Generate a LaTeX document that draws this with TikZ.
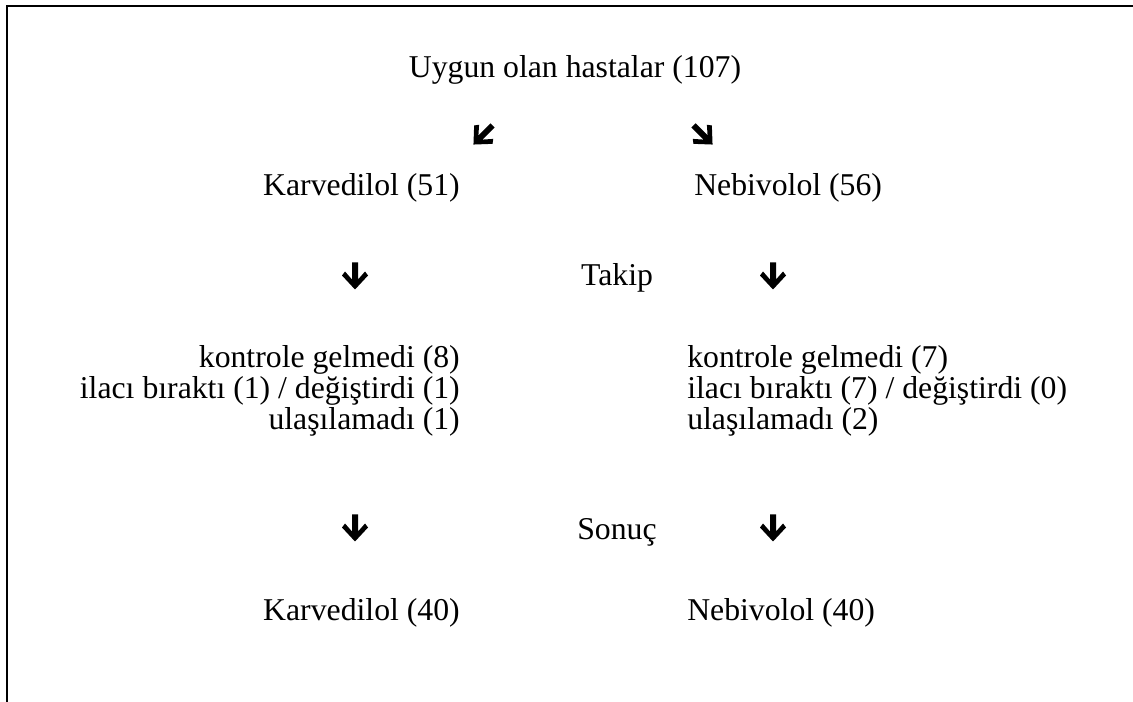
\documentclass[tikz,border=0pt]{standalone}
\usepackage{fontspec}
\setmainfont{Liberation Serif}
\begin{document}
\begin{tikzpicture}[x=0.75pt,y=-0.75pt,
  txt/.style={inner sep=0pt, anchor=base, font=\fontsize{23.8}{30}\selectfont},
  ltxt/.style={txt, anchor=base east},
  rtxt/.style={txt, anchor=base west},
  frame/.style={line width=1.5pt},
  bigarrow/.pic={\fill (-3,-13.5) -- (3,-13.5) -- (3,3.5) -- (10,-4.5) -- (13,-0.5) -- (0,13.5) -- (-13,-0.5) -- (-10,-4.5) -- (-3,3.5) -- cycle;}
  ]
\useasboundingbox (0,0) rectangle (1133,702);
\draw[frame] (7,702) -- (7,6) -- (1133,6);
\node[txt] (top) at (575,78) {Uygun olan hastalar (107)};
\pic[rotate=-45] (aSW) at (483,135) {bigarrow};
\pic[rotate=45] (aSE) at (703,135) {bigarrow};
\node[ltxt] (k51) at (460,196) {Karvedilol (51)};
\node[rtxt] (n56) at (694,196) {Nebivolol (56)};
\pic (aL1) at (355,276) {bigarrow};
\pic (aR1) at (773,276) {bigarrow};
\node[txt] (takip) at (617,286) {Takip};
\node[ltxt] (l1) at (460,368) {kontrole gelmedi (8)};
\node[ltxt] (l2) at (460,399) {ilacı bıraktı (1) / değiştirdi (1)};
\node[ltxt] (l3) at (460,430) {ulaşılamadı (1)};
\node[rtxt] (r1) at (687,368) {kontrole gelmedi (7)};
\node[rtxt] (r2) at (687,399) {ilacı bıraktı (7) / değiştirdi (0)};
\node[rtxt] (r3) at (687,430) {ulaşılamadı (2)};
\pic (aL2) at (355,528) {bigarrow};
\pic (aR2) at (773,528) {bigarrow};
\node[txt] (sonuc) at (617,539) {Sonuç};
\node[ltxt] (k40) at (460,620) {Karvedilol (40)};
\node[rtxt] (n40) at (687,620) {Nebivolol (40)};
\end{tikzpicture}
\end{document}
